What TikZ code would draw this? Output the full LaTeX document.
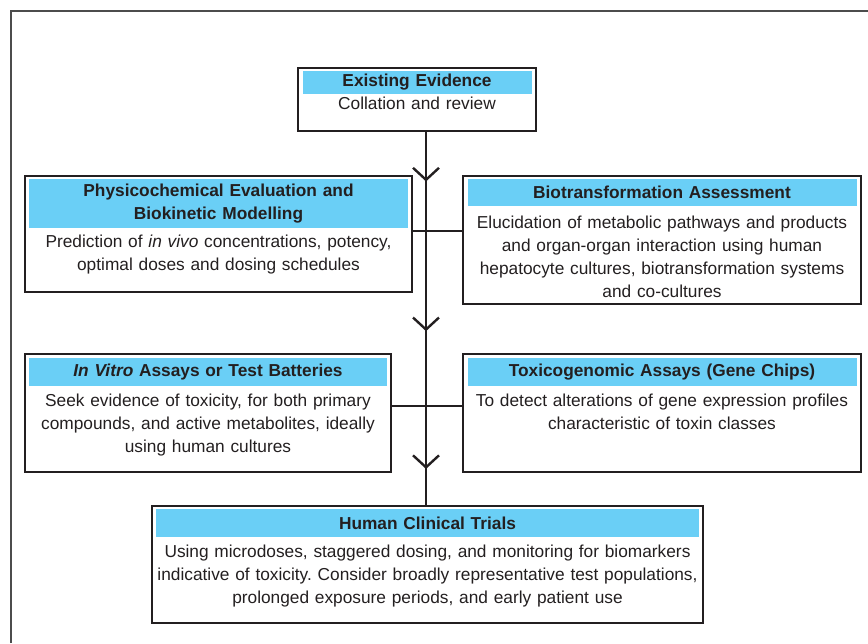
\documentclass[tikz,border=0pt]{standalone}
\usepackage{fontspec}
\setmainfont{Liberation Sans}
\usetikzlibrary{positioning}
\usetikzlibrary{arrows.meta}
\usetikzlibrary{decorations.markings}
\definecolor{headblue}{RGB}{106,207,246}
\definecolor{ink}{RGB}{35,31,32}
\newcommand{\txt}{\fontsize{17.3}{23}\selectfont}
\frenchspacing

\begin{document}
\begin{tikzpicture}[x=1pt, y=-1pt,
    box/.style={draw=ink, line width=2.6pt, rectangle, inner sep=0pt},
    head/.style={fill=headblue, text=ink, font=\txt\bfseries, align=center,
      inner xsep=2pt, inner ysep=5pt, minimum height=28pt},
    body/.style={text=ink, font=\txt, align=center, inner sep=0pt},
    link/.style={draw=ink, line width=2.4pt},
    barb/.style={decoration={markings,
      mark=at position 0.132 with {\arrow{Straight Barb[length=12pt,width=26pt]}},
      mark=at position 0.534 with {\arrow{Straight Barb[length=12pt,width=26pt]}},
      mark=at position 0.904 with {\arrow{Straight Barb[length=12pt,width=26pt]}}},
      postaction={decorate}}]
    \useasboundingbox (0,0) rectangle (868,643);
    \draw[black!70, line width=1.4pt] (11,643) -- (11,11) -- (868,11);
    \coordinate (spine) at (426,0);

    \node[box, minimum width=238pt, minimum height=63pt] (evid) at (417,99.5) {};
    \node[head, text width=225pt, inner ysep=3pt, minimum height=23pt, below=4pt of evid.north] (evidhead) {Existing Evidence};
    \node[body, text width=230pt, below=3pt of evidhead] (evidtext) {Collation and review};

    \node[box, minimum width=387pt, minimum height=116pt] (physio) at (218.5,234) {};
    \node[head, text width=375pt, below=4pt of physio.north] (physiohead)
      {Physicochemical Evaluation and\\Biokinetic Modelling};
    \node[body, text width=380pt, below=6pt of physiohead] (physiotext)
      {Prediction of \textit{in vivo} concentrations, potency,\\optimal doses and dosing schedules};

    \node[box, minimum width=398pt, minimum height=128pt] (biotrans) at (662,240) {};
    \node[head, text width=385pt, minimum height=27pt, below=4pt of biotrans.north] (biotranshead)
      {Biotransformation Assessment};
    \node[body, text width=390pt, below=10pt of biotranshead] (biotranstext)
      {Elucidation of metabolic pathways and products\\and organ-organ interaction using human\\hepatocyte cultures, biotransformation systems\\and co-cultures};

    \node[box, minimum width=366pt, minimum height=118pt] (vitro) at (208,413) {};
    \node[head, text width=354pt, below=5pt of vitro.north] (vitrohead)
      {\textit{In Vitro} Assays or Test Batteries};
    \node[body, text width=360pt, below=8pt of vitrohead] (vitrotext)
      {Seek evidence of toxicity, for both primary\\compounds, and active metabolites, ideally\\using human cultures};

    \node[box, minimum width=398pt, minimum height=118pt] (toxgen) at (662,413) {};
    \node[head, text width=385pt, below=5pt of toxgen.north] (toxgenhead)
      {Toxicogenomic Assays (Gene Chips)};
    \node[body, text width=390pt, below=8pt of toxgenhead] (toxgentext)
      {To detect alterations of gene expression profiles\\characteristic of toxin classes};

    \node[box, minimum width=551pt, minimum height=117pt] (clinic) at (427.5,564.5) {};
    \node[head, text width=539pt, below=4pt of clinic.north] (clinichead)
      {Human Clinical Trials};
    \node[body, text width=545pt, below=8pt of clinichead] (clinictext)
      {Using microdoses, staggered dosing, and monitoring for biomarkers\\indicative of toxicity. Consider broadly representative test populations,\\prolonged exposure periods, and early patient use};

    \path[link] ([yshift=3pt]physio.east) -- ([yshift=3pt]physio.east -| biotrans.west);
    \path[link] ([yshift=7pt]vitro.east) -- ([yshift=7pt]toxgen.west);
    \path[link, barb] (evid.south -| spine) -- (clinic.north -| spine);
  \end{tikzpicture}
\end{document}
